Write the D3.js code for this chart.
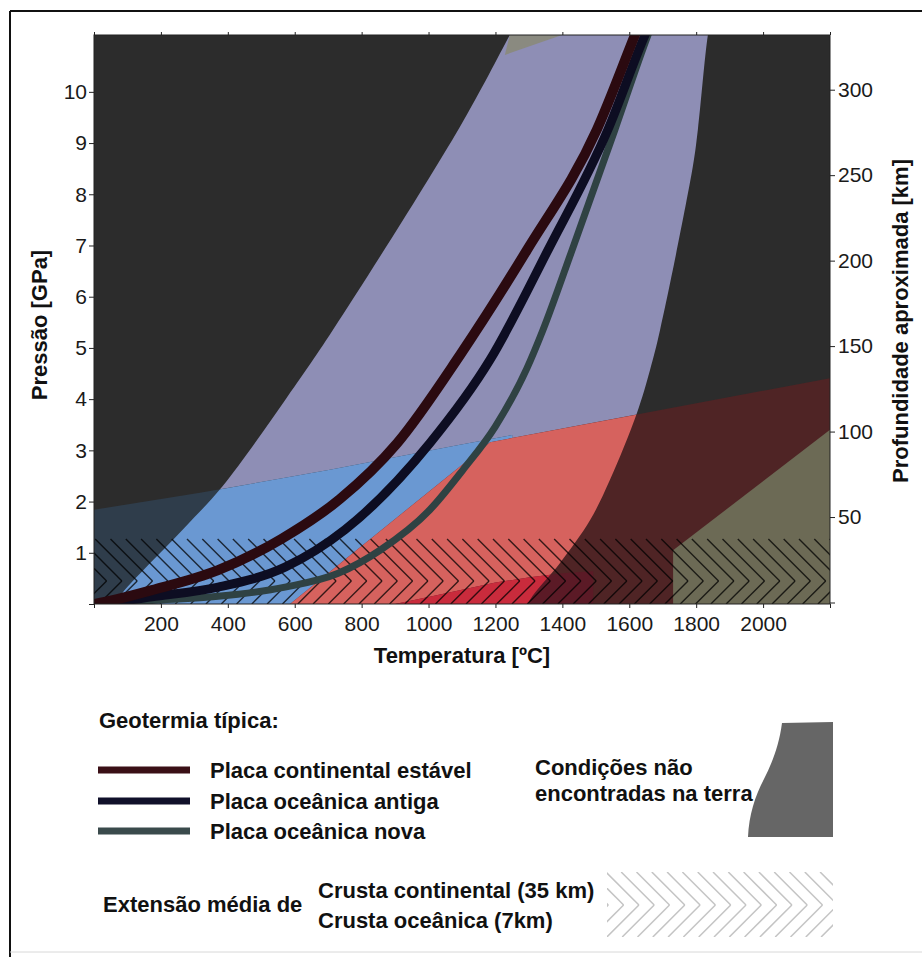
<!DOCTYPE html>
<html>
<head>
<meta charset="utf-8">
<script src="https://cdn.jsdelivr.net/npm/d3@7"></script>
<style>
  body { margin: 0; background: #fff; }
  svg { display: block; font-family: "Liberation Sans", Arial, sans-serif; }
</style>
</head>
<body>
<script>
// values: temperature [ºC], pressure [GPa]
const tempTicks = [200, 400, 600, 800, 1000, 1200, 1400, 1600, 1800, 2000]
const tempMarks = [0, 200, 400, 600, 800, 1000, 1200, 1400, 1600, 1800, 2000, 2200]
const pressureTicks = [0, 1, 2, 3, 4, 5, 6, 7, 8, 9, 10]
const depthTicks = [0, 50, 100, 150, 200, 250, 300]

// typical geotherms
const continental = [[0, 0], [60, 0.08], [173, 0.27], [371, 0.66], [560, 1.27], [735, 2.05],
    [906, 3.14], [1094, 4.86], [1294, 6.91], [1503, 9.26], [1617, 11.11], [1647, 11.6]]
const oceanicOld = [[0, 0], [60, 0.04], [173, 0.14], [371, 0.33], [571, 0.72], [750, 1.45],
    [1004, 3.14], [1184, 4.77], [1357, 6.91], [1536, 9.26], [1647, 11.11], [1680, 11.6]]
const oceanicNew = [[0, 0], [173, 0.07], [371, 0.15], [571, 0.33], [730, 0.6], [855, 1.05],
    [1004, 1.84], [1103, 2.62], [1199, 3.46], [1294, 4.6], [1342, 5.35], [1429, 6.91],
    [1557, 9.26], [1656, 11.11], [1685, 11.6]]

// shaded regions
const bandLeft = [[40, -0.2], [84, 0.21], [272, 1.5], [383, 2.29], [571, 3.98], [714, 5.35],
    [1094, 9.32], [1243, 11.11], [1284, 11.6]]
const bandRight = [[1850, 11.6], [1835, 11.11], [1805, 9.26], [1790, 8.54], [1692, 5.35],
    [1662, 4.57], [1623, 3.73], [1542, 2.42], [1483, 1.64], [1393, 0.8], [1303, 0.08], [1285, -0.2]]
const blueZone = [[0, 0], [0, 1.84], [317, 2.17], [705, 2.62], [1094, 3.11], [1250, 3.3], [1250, 0]]
const redZone = [[586, 0], [1184, 3.16], [2200, 4.41], [2200, 0]]
const crimsonZone = [[900, 0], [1010, 0.15], [1200, 0.42], [1303, 0.52], [1400, 0.6], [1492, 0.64], [1492, 0]]
const oliveZone = [[1731, 0], [1731, 1.05], [2200, 3.4], [2200, 0]]
const greyZone = [[1228, 10.72], [1254, 11.4], [1526, 11.4]]
const crust = { top: 1.27, mid: 0.45 }

const m = { left: 94, right: 830, top: 35, bottom: 604 }

const svg = d3.select('body').append('svg')
    .attr('width', 922)
    .attr('height', 957)

// outer frame
svg.append('line').attr('x1', 10).attr('x2', 10).attr('y1', 11).attr('y2', 957)
    .attr('stroke', '#111').attr('stroke-width', 2)
svg.append('line').attr('x1', 10).attr('x2', 922).attr('y1', 11).attr('y2', 11)
    .attr('stroke', '#111').attr('stroke-width', 2)
svg.append('line').attr('x1', 10).attr('x2', 922).attr('y1', 952).attr('y2', 952)
    .attr('stroke', '#d8d8d8').attr('stroke-width', 1)

const x = d3.scaleLinear().domain([0, 2200]).range([m.left, m.right])
const y = d3.scaleLinear().domain([0, 11.11]).range([m.bottom, m.top])
const yDepth = d3.scaleLinear().domain([0, 332]).range([602.5, m.top])

const smooth = d3.line().x(d => x(d[0])).y(d => y(d[1])).curve(d3.curveCatmullRom)
const straight = d3.line().x(d => x(d[0])).y(d => y(d[1]))
const geoLine = d3.line().x(d => x(d[0])).y(d => y(d[1])).curve(d3.curveMonotoneX)
const bandPath = smooth(bandLeft) + smooth(bandRight).replace(/^M/, 'L') + 'Z'

const defs = svg.append('defs')
defs.append('clipPath').attr('id', 'plotClip')
    .append('rect')
    .attr('x', m.left).attr('y', m.top)
    .attr('width', m.right - m.left).attr('height', m.bottom - m.top)
defs.append('clipPath').attr('id', 'bandClip')
    .append('path').attr('d', bandPath)

const plot = svg.append('g').attr('clip-path', 'url(#plotClip)')

plot.append('rect')
    .attr('x', m.left).attr('y', m.top)
    .attr('width', m.right - m.left).attr('height', m.bottom - m.top)
    .attr('fill', '#2c2c2c')

plot.append('path').attr('d', bandPath).attr('fill', '#8e8eb5')

// each zone: a dark version over the background, a light one inside the band
const zones = [
    { pts: blueZone, dark: '#2f3d4b', light: '#6a98d2' },
    { pts: redZone, dark: '#4f2425', light: '#d6625e' },
    { pts: crimsonZone, dark: '#5b1a26', light: '#c92b3c' }
]
zones.forEach(z => {
    plot.append('path').attr('d', straight(z.pts) + 'Z').attr('fill', z.dark)
    plot.append('g').attr('clip-path', 'url(#bandClip)')
        .append('path').attr('d', straight(z.pts) + 'Z').attr('fill', z.light)
})

plot.append('path').attr('d', straight(oliveZone) + 'Z').attr('fill', '#6c6a55')
plot.append('path').attr('d', straight(greyZone) + 'Z').attr('fill', '#8a8a80')

// crust hatching (chevrons)
const hTop = y(crust.top), hMid = y(crust.mid), hBot = y(0)
const hatch = plot.append('g').attr('stroke', '#000').attr('stroke-opacity', 0.75).attr('stroke-width', 1.4)
d3.range(m.left - 60, m.right + 20, 15.3).forEach(x0 => {
    const xm = x0 + (hMid - hTop)
    hatch.append('line').attr('x1', x0).attr('y1', hTop).attr('x2', xm).attr('y2', hMid)
    hatch.append('line').attr('x1', xm).attr('y1', hMid).attr('x2', xm - (hBot - hMid)).attr('y2', hBot)
})

// geotherms
const geotherms = [
    { pts: oceanicNew, color: '#2f4243', width: 7 },
    { pts: oceanicOld, color: '#0d0d22', width: 9 },
    { pts: continental, color: '#2b0a10', width: 10 }
]
geotherms.forEach(g => {
    plot.append('path').attr('d', geoLine(g.pts))
        .attr('fill', 'none').attr('stroke', g.color).attr('stroke-width', g.width)
})

// frame and axes
svg.append('rect')
    .attr('x', m.left).attr('y', m.top)
    .attr('width', m.right - m.left).attr('height', m.bottom - m.top)
    .attr('fill', 'none').attr('stroke', '#222').attr('stroke-width', 1)

const styleAxis = g => {
    g.select('.domain').remove()
    g.selectAll('line').attr('stroke', '#222')
    g.selectAll('text').attr('font-size', 21).attr('fill', '#1a1a1a')
        .attr('font-family', '"Liberation Sans", Arial, sans-serif')
}

svg.append('g').attr('transform', `translate(0,${m.bottom})`)
    .call(d3.axisBottom(x).tickValues(tempMarks).tickSize(4).tickPadding(8)
        .tickFormat(d => tempTicks.includes(d) ? d : ''))
    .call(styleAxis)
svg.append('g').attr('transform', `translate(0,${m.top})`)
    .call(d3.axisTop(x).tickValues(tempMarks).tickSize(3).tickFormat(''))
    .call(styleAxis)
svg.append('g').attr('transform', `translate(${m.left},0)`)
    .call(d3.axisLeft(y).tickValues(pressureTicks).tickSize(5).tickPadding(2)
        .tickFormat(d => d === 0 ? '' : d))
    .call(styleAxis)
svg.append('g').attr('transform', `translate(${m.right},0)`)
    .call(d3.axisRight(yDepth).tickValues(depthTicks).tickSize(5).tickPadding(3)
        .tickFormat(d => d === 0 ? '' : d))
    .call(styleAxis)

// axis titles
const bold = sel => sel.attr('font-size', 22).attr('font-weight', 'bold').attr('fill', '#111')
svg.append('text').attr('x', 462).attr('y', 663).attr('text-anchor', 'middle')
    .call(bold).text('Temperatura [ºC]')
svg.append('text').attr('transform', 'translate(47,325)rotate(-90)').attr('text-anchor', 'middle')
    .call(bold).text('Pressão [GPa]')
svg.append('text').attr('transform', 'translate(908,321)rotate(-90)').attr('text-anchor', 'middle')
    .call(bold).text('Profundidade aproximada [km]')

// legend: geotherms
svg.append('text').attr('x', 99).attr('y', 728).call(bold).text('Geotermia típica:')
const legendRows = [
    { label: 'Placa continental estável', color: '#3a0f16', y: 770 },
    { label: 'Placa oceânica antiga', color: '#10102a', y: 801 },
    { label: 'Placa oceânica nova', color: '#3a4a4c', y: 831 }
]
legendRows.forEach(r => {
    svg.append('line').attr('x1', 98).attr('x2', 190).attr('y1', r.y).attr('y2', r.y)
        .attr('stroke', r.color).attr('stroke-width', 7)
    svg.append('text').attr('x', 210).attr('y', r.y + 8).call(bold).text(r.label)
})

// legend: conditions not found on earth
svg.append('text').attr('x', 535).attr('y', 775).call(bold).text('Condições não')
svg.append('text').attr('x', 535).attr('y', 801).call(bold).text('encontradas na terra')
svg.append('path')
    .attr('d', 'M782,723 L833,722 L833,837 L748,837 C749,815 755,796 764,779 C772,763 779,746 782,723 Z')
    .attr('fill', '#666')

// legend: crust thickness
svg.append('text').attr('x', 103).attr('y', 912).call(bold).text('Extensão média de')
svg.append('text').attr('x', 318).attr('y', 898).call(bold).text('Crusta continental (35 km)')
svg.append('text').attr('x', 318).attr('y', 928).call(bold).text('Crusta oceânica (7km)')

defs.append('clipPath').attr('id', 'legendClip')
    .append('rect').attr('x', 607).attr('y', 872).attr('width', 226).attr('height', 65)
const lh = svg.append('g').attr('clip-path', 'url(#legendClip)')
    .attr('stroke', '#c4c4c4').attr('stroke-width', 1.5)
d3.range(560, 840, 15.3).forEach(x0 => {
    lh.append('line').attr('x1', x0).attr('y1', 872).attr('x2', x0 + 33).attr('y2', 905)
    lh.append('line').attr('x1', x0 + 33).attr('y1', 905).attr('x2', x0 + 1).attr('y2', 937)
})
</script>
</body>
</html>
